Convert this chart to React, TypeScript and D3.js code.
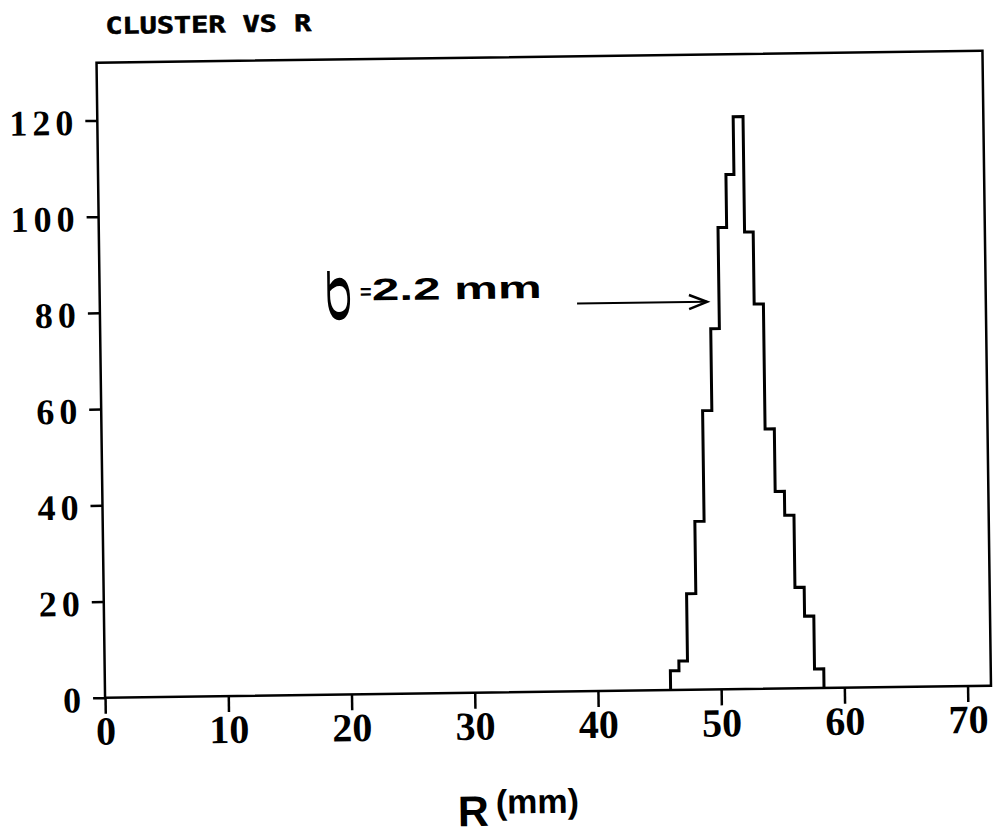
import React, { useEffect, useRef } from 'react';
import * as d3 from 'd3';

const WIDTH = 994;
const HEIGHT = 836;
const FRAME = { left: 100.75, right: 986.75, top: 56.75, bottom: 691.75 };
// the scanned page sits a little askew, so everything gets the same small tilt
const TILT = -0.77;

const title = 'CLUSTER VS R';
const sigmaLabel = '2.2 mm';
const xUnit = '(mm)';
const xName = 'R';

// histogram of R (mm): bin edges and counts
const binEdges = [45.9, 46.6, 47.3, 48.05, 48.8, 49.55, 50.25, 50.95, 51.6, 52.4, 53.1, 53.85, 54.6, 55.35, 56.1, 56.85, 57.6, 58.35];
const counts = [4, 6, 20, 35, 58, 75, 96, 107, 119, 95, 80, 54, 41, 36, 21, 15, 4];

const xTicks = [0, 10, 20, 30, 40, 50, 60, 70];
const yTicks = [0, 20, 40, 60, 80, 100, 120];

const SERIF = '"Liberation Serif", "Times New Roman", serif';
const SANS = '"Liberation Sans", Arial, sans-serif';

export default function App() {
    const ref = useRef<SVGSVGElement>(null);

    useEffect(() => {
        const svg = d3.select(ref.current);
        svg.selectAll('*').remove();

        const x = d3.scaleLinear().domain([0, 71.9]).range([FRAME.left, FRAME.right]);
        const y = d3.scaleLinear().domain([0, 132]).range([FRAME.bottom, FRAME.top]);

        const g = svg.append('g').attr('transform', `rotate(${TILT}, 544, 374)`);

        g.append('text')
            .attr('x', 110)
            .attr('y', 28)
            .attr('font-family', '"DejaVu Sans Mono", monospace')
            .attr('font-weight', 'bold')
            .attr('font-size', 23)
            .attr('stroke', '#000')
            .attr('stroke-width', 0.6)
            .attr('textLength', 206)
            .attr('lengthAdjust', 'spacingAndGlyphs')
            .text(title);

        // x axis
        const xg = g.append('g')
            .attr('transform', `translate(0, ${FRAME.bottom})`)
            .call(d3.axisBottom(x).tickValues(xTicks).tickSize(16).tickFormat(d3.format('d')));
        xg.select('.domain').remove();
        xg.selectAll('line').attr('stroke', '#000').attr('stroke-width', 2.5);
        xg.selectAll('text')
            .attr('y', 47)
            .attr('dy', 0)
            .attr('fill', '#000')
            .attr('font-family', SERIF)
            .attr('font-weight', 'bold')
            .attr('font-size', 40);

        // y axis
        const yg = g.append('g')
            .attr('transform', `translate(${FRAME.left}, 0)`)
            .call(d3.axisLeft(y).tickValues(yTicks).tickSize(12).tickFormat(d3.format('d')));
        yg.select('.domain').remove();
        yg.selectAll('line').attr('stroke', '#000').attr('stroke-width', 2.5);
        yg.selectAll('text')
            .attr('x', -19)
            .attr('dy', '0.38em')
            .attr('fill', '#000')
            .attr('font-family', SERIF)
            .attr('font-weight', 'bold')
            .attr('font-size', 36)
            .attr('letter-spacing', 5);

        // frame
        g.append('rect')
            .attr('x', FRAME.left)
            .attr('y', FRAME.top)
            .attr('width', FRAME.right - FRAME.left)
            .attr('height', FRAME.bottom - FRAME.top)
            .attr('fill', 'none')
            .attr('stroke', '#000')
            .attr('stroke-width', 2.5);

        // histogram outline
        const pts: [number, number][] = [[binEdges[0], 0]];
        counts.forEach((c, i) => pts.push([binEdges[i], c]));
        pts.push([binEdges[binEdges.length - 1], 0]);
        const step = d3.line<[number, number]>()
            .x(d => x(d[0]))
            .y(d => y(d[1]))
            .curve(d3.curveStepAfter);
        g.append('path')
            .attr('d', step(pts))
            .attr('fill', 'none')
            .attr('stroke', '#000')
            .attr('stroke-width', 3)
            .attr('stroke-linejoin', 'miter');

        // sigma annotation with arrow
        g.append('text')
            .attr('transform', 'translate(336, 294) rotate(-90) scale(2.1, 1)')
            .attr('text-anchor', 'middle')
            .attr('dominant-baseline', 'central')
            .attr('font-family', SANS)
            .attr('font-size', 42)
            .text('σ');
        g.append('text')
            .attr('x', 361)
            .attr('y', 296)
            .attr('font-family', SANS)
            .attr('font-weight', 'bold')
            .attr('font-size', 20)
            .text('=');
        g.append('text')
            .attr('x', 373)
            .attr('y', 298)
            .attr('font-family', SANS)
            .attr('font-weight', 'bold')
            .attr('font-size', 31)
            .attr('textLength', 170)
            .attr('lengthAdjust', 'spacingAndGlyphs')
            .text(sigmaLabel);
        g.append('line')
            .attr('x1', 578).attr('y1', 304).attr('x2', 708).attr('y2', 304)
            .attr('stroke', '#000').attr('stroke-width', 2);
        g.append('path')
            .attr('d', 'M690,297 L708,304 L690,311')
            .attr('fill', 'none')
            .attr('stroke', '#000')
            .attr('stroke-width', 2.5);

        // axis title
        g.append('text')
            .attr('x', 452)
            .attr('y', 825)
            .attr('font-family', SANS)
            .attr('font-weight', 'bold')
            .attr('font-size', 43)
            .text(xName);
        g.append('text')
            .attr('x', 490)
            .attr('y', 813)
            .attr('font-family', SANS)
            .attr('font-weight', 'bold')
            .attr('font-size', 34)
            .text(xUnit);
    }, []);

    return (
        <svg
            ref={ref}
            width={WIDTH}
            height={HEIGHT}
            style={{ position: 'absolute', left: 0, top: 0, background: '#fff' }}
            xmlns="http://www.w3.org/2000/svg"
        />
    );
}
